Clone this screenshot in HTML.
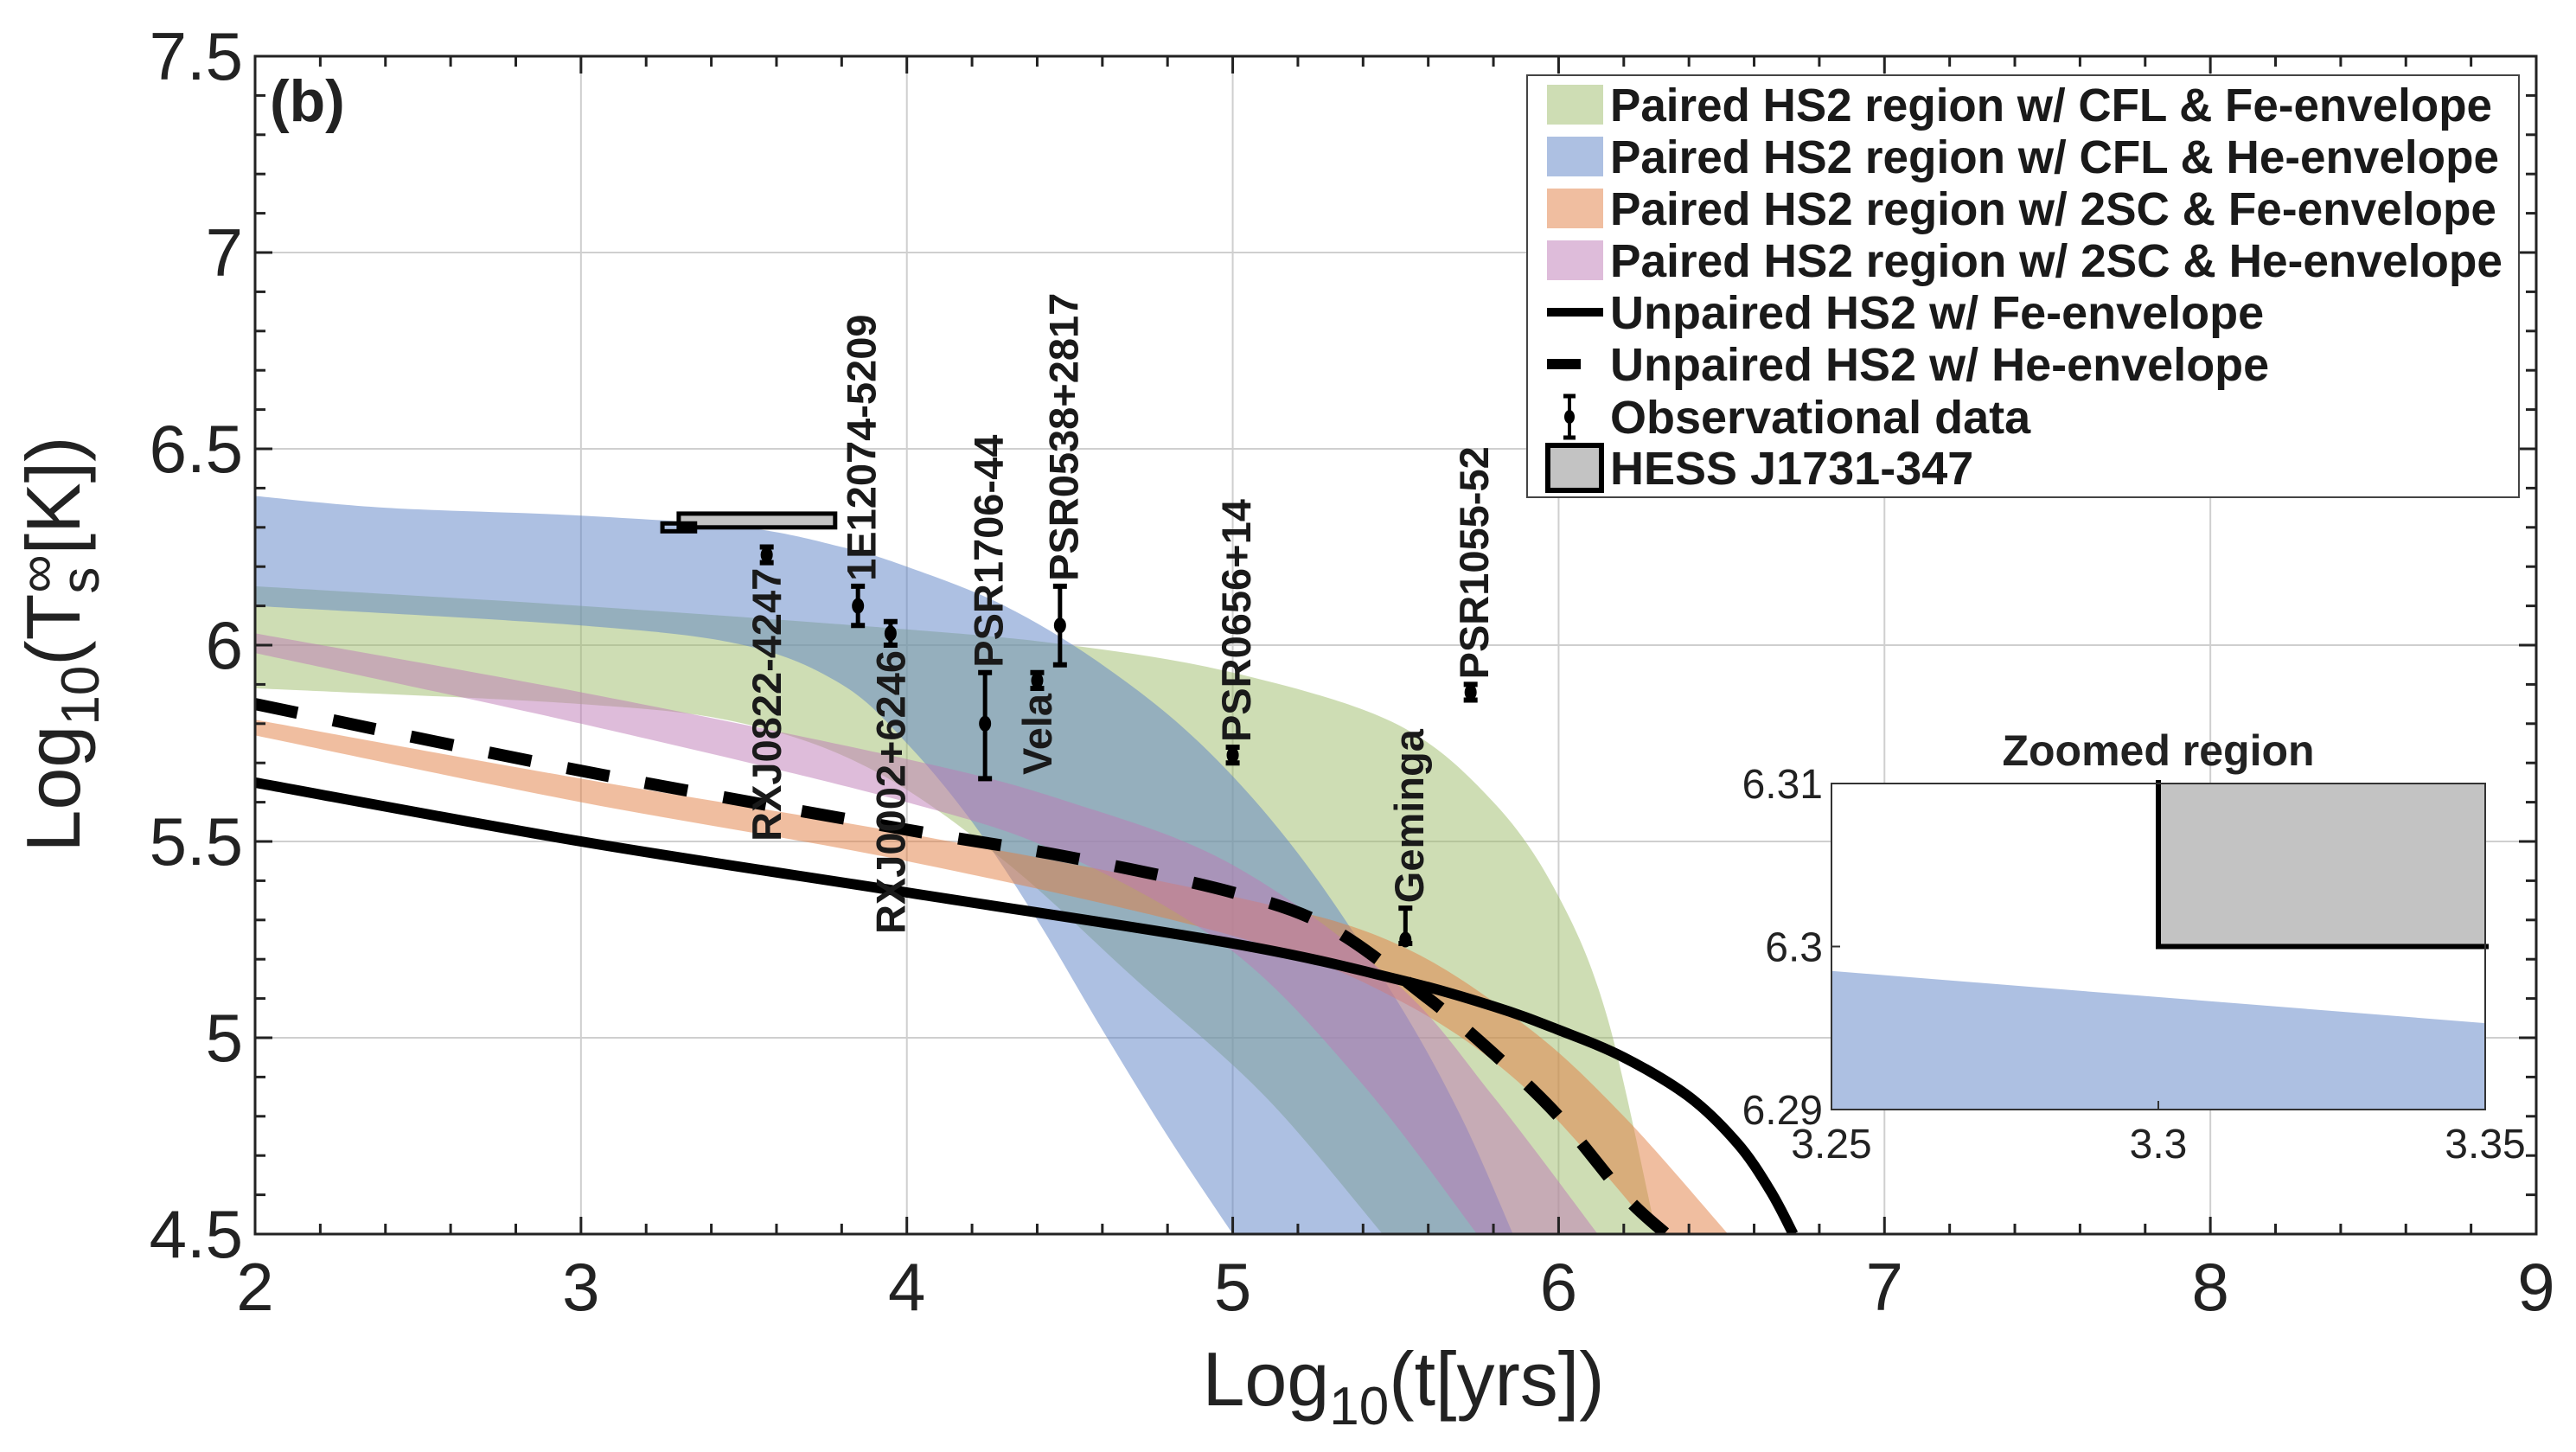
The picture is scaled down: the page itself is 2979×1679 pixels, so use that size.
<!DOCTYPE html>
<html><head><meta charset="utf-8"><style>
html,body{margin:0;padding:0;background:#fff;}
svg{display:block;font-family:"Liberation Sans",Arial,sans-serif;}
</style></head><body>
<svg id="chart" xmlns="http://www.w3.org/2000/svg" width="2979" height="1679" viewBox="0 0 2979 1679"></svg>
<script>
// ---- data ----
const xTicks = [2,3,4,5,6,7,8,9];
const yTicks = [4.5,5,5.5,6,6.5,7,7.5];
const yTickLabels = ["4.5","5","5.5","6","6.5","7","7.5"];
const greenUpperX = [2,3,4,4.5,5,5.5,5.8,6.0,6.15,6.3];
const greenUpperY = [6.15,6.1,6.04,6.0,5.93,5.8,5.6,5.36,5.05,4.5];
const greenLowerX = [2,3,3.5,3.9,4.3,4.7,5.1,5.46];
const greenLowerY = [5.89,5.85,5.8,5.68,5.45,5.15,4.85,4.5];
const blueUpperX = [2,2.4,3,3.5,3.8,4.0,4.3,4.6,4.9,5.2,5.5,5.7,5.86];
const blueUpperY = [6.38,6.35,6.33,6.3,6.25,6.2,6.1,5.95,5.75,5.47,5.1,4.8,4.5];
const blueLowerX = [2,3,3.5,3.8,4.0,4.2,4.4,4.6,4.8,5.0];
const blueLowerY = [6.1,6.05,6.0,5.9,5.75,5.55,5.3,5.02,4.75,4.5];
const orangeUpperX = [2,3,4,5,5.5,5.9,6.2,6.52];
const orangeUpperY = [5.81,5.66,5.52,5.36,5.24,5.03,4.8,4.5];
const orangeLowerX = [2,3,4,5,5.5,5.9,6.3];
const orangeLowerY = [5.77,5.6,5.45,5.26,5.1,4.87,4.5];
const pinkUpperX = [2,3,4,4.5,5,5.5,5.8,6.12];
const pinkUpperY = [6.03,5.88,5.71,5.6,5.44,5.14,4.85,4.5];
const pinkLowerX = [2,3,4,4.5,5,5.4,5.75];
const pinkLowerY = [5.98,5.8,5.6,5.46,5.22,4.88,4.5];
const feX = [2,3,4,5,5.5,5.8,6.0,6.2,6.4,6.55,6.65,6.72];
const feY = [5.65,5.5,5.37,5.24,5.15,5.08,5.02,4.95,4.85,4.73,4.61,4.5];
const heX = [2,3,4,4.5,5,5.3,5.6,5.8,6.0,6.2,6.33];
const heY = [5.85,5.68,5.53,5.46,5.37,5.28,5.1,4.96,4.8,4.6,4.5];
const obsNames = ["RXJ0822-4247","1E12074-5209","RXJ0002+6246","PSR1706-44","Vela","PSR0538+2817","PSR0656+14","Geminga","PSR1055-52"];
const obsX = [3.57,3.85,3.95,4.24,4.40,4.47,5.0,5.53,5.73];
const obsY = [6.23,6.10,6.03,5.80,5.91,6.05,5.72,5.25,5.88];
const obsErrLo = [0.02,0.05,0.03,0.14,0.02,0.10,0.02,0.01,0.02];
const obsErrHi = [0.02,0.05,0.03,0.13,0.02,0.10,0.02,0.08,0.02];
const obsLabelSide = ["below","above","below","above","below","above","above","above","above"];
const hessX = [3.30,3.78];
const hessY = [6.30,6.335];
const insetXTicks = [3.25,3.3,3.35];
const insetXTickLabels = ["3.25","3.3","3.35"];
const insetYTicks = [6.29,6.3,6.31];
const insetYTickLabels = ["6.29","6.3","6.31"];
const insetBlueX = [3.25,3.35];
const insetBlueY = [6.2985,6.2953];

// ---- geometry ----
const L=295,R=2933,T=65,B=1427;
const X=v=>L+(v-2)/7*(R-L);
const Y=v=>T+(7.5-v)/3*(B-T);
const NS="http://www.w3.org/2000/svg";
const svg=document.getElementById('chart');
function mk(tag,attrs,parent){const e=document.createElementNS(NS,tag);for(const k in attrs)e.setAttribute(k,attrs[k]);(parent||svg).appendChild(e);return e;}
function smooth(pts){
  let d="M"+pts[0][0].toFixed(1)+","+pts[0][1].toFixed(1);
  for(let i=0;i<pts.length-1;i++){
    const p0=pts[i-1]||pts[i],p1=pts[i],p2=pts[i+1],p3=pts[i+2]||p2;
    const c1=[p1[0]+(p2[0]-p0[0])/6,p1[1]+(p2[1]-p0[1])/6];
    const c2=[p2[0]-(p3[0]-p1[0])/6,p2[1]-(p3[1]-p1[1])/6];
    d+=" C"+c1[0].toFixed(1)+","+c1[1].toFixed(1)+" "+c2[0].toFixed(1)+","+c2[1].toFixed(1)+" "+p2[0].toFixed(1)+","+p2[1].toFixed(1);
  }
  return d;
}
const pts=(xs,ys)=>xs.map((x,i)=>[X(x),Y(ys[i])]);

const defs=mk('defs',{});
const cp=mk('clipPath',{id:'plotclip'},defs);
mk('rect',{x:L,y:T,width:R-L,height:B-T},cp);

// grid
const grid=mk('g',{stroke:'#cfcfcf','stroke-width':2});


xTicks.forEach(v=>mk('line',{x1:X(v),x2:X(v),y1:T,y2:B},grid));
yTicks.forEach(v=>mk('line',{x1:L,x2:R,y1:Y(v),y2:Y(v)},grid));

// bands
const bands=mk('g',{'clip-path':'url(#plotclip)'});
function band(ux,uy,lx,ly,color,name){
  const up=pts(ux,uy), lo=pts(lx,ly);
  let d=smooth(up);
  const loR=lo.slice().reverse();
  const s=smooth(loR);
  d+=" L"+loR[0][0].toFixed(1)+","+loR[0][1].toFixed(1)+s.slice(s.indexOf(' '))+" Z";
  const p=mk('path',{d:d,fill:color,'fill-opacity':0.5,stroke:'none'},bands);
  
  
}
band(greenUpperX,greenUpperY,greenLowerX,greenLowerY,'rgb(157,187,105)','band-cfl-fe');
band(blueUpperX,blueUpperY,blueLowerX,blueLowerY,'rgb(91,129,197)','band-cfl-he');
band(orangeUpperX,orangeUpperY,orangeLowerX,orangeLowerY,'rgb(225,125,65)','band-2sc-fe');
band(pinkUpperX,pinkUpperY,pinkLowerX,pinkLowerY,'rgb(189,121,181)','band-2sc-he');

// curves
const fe=mk('path',{d:smooth(pts(feX,feY)),fill:'none',stroke:'#000','stroke-width':12,'clip-path':'url(#plotclip)'});


const he=mk('path',{d:smooth(pts(heX,heY)),fill:'none',stroke:'#000','stroke-width':14,'stroke-dasharray':'50,42','clip-path':'url(#plotclip)'});



// HESS rect in main plot
const hess=mk('rect',{x:X(hessX[0]),y:Y(hessY[1]),width:X(hessX[1])-X(hessX[0]),height:Y(hessY[0])-Y(hessY[1]),fill:'#c3c3c3',stroke:'#000','stroke-width':5});


const zb=mk('rect',{x:X(insetXTicks[0]),y:Y(insetYTicks[2]),width:X(insetXTicks[2])-X(insetXTicks[0]),height:Y(insetYTicks[0])-Y(insetYTicks[2]),fill:'none',stroke:'#000','stroke-width':5});



// observational data
obsNames.forEach((n,i)=>{
  const g=mk('g',{});
  
  
  const x=X(obsX[i]),y=Y(obsY[i]),yt=Y(obsY[i]+obsErrHi[i]),yb=Y(obsY[i]-obsErrLo[i]);
  mk('line',{x1:x,x2:x,y1:yt,y2:yb,stroke:'#000','stroke-width':5},g);
  mk('line',{x1:x-8,x2:x+8,y1:yt,y2:yt,stroke:'#000','stroke-width':6},g);
  mk('line',{x1:x-8,x2:x+8,y1:yb,y2:yb,stroke:'#000','stroke-width':6},g);
  mk('ellipse',{cx:x,cy:y,rx:7,ry:9,fill:'#000'},g);
  let tx,ty,anchor;
  if(obsLabelSide[i]==='above'){tx=x+4;ty=yt-6;anchor='start';}
  else{tx=x;ty=yb+6;anchor='end';}
  const t=mk('text',{x:tx,y:ty,transform:`rotate(-90 ${tx} ${ty})`,'text-anchor':anchor,'dominant-baseline':'central','font-size':47,'font-weight':'bold',fill:'#1a1a1a'},g);
  t.textContent=n;
});

// axes box + ticks
const ax=mk('g',{stroke:'#222','stroke-width':3});


mk('rect',{x:L,y:T,width:R-L,height:B-T,fill:'none'},ax);
for(let v=2;v<=9.001;v+=0.2){const maj=Math.abs(v-Math.round(v))<1e-6;const len=maj?20:12;
  mk('line',{x1:X(v),x2:X(v),y1:B,y2:B-len},ax);mk('line',{x1:X(v),x2:X(v),y1:T,y2:T+len},ax);}
for(let v=4.5;v<=7.501;v+=0.1){const maj=Math.abs(v*2-Math.round(v*2))<1e-6;const len=maj?20:12;
  mk('line',{x1:L,x2:L+len,y1:Y(v),y2:Y(v)},ax);mk('line',{x1:R,x2:R-len,y1:Y(v),y2:Y(v)},ax);}

// tick labels
xTicks.forEach(v=>{const t=mk('text',{x:X(v),y:B+88,'text-anchor':'middle','font-size':78,fill:'#222'});
  t.textContent=String(v);});
yTicks.forEach((v,i)=>{const t=mk('text',{x:L-14,y:Y(v)+27,'text-anchor':'end','font-size':78,fill:'#222'});
  t.textContent=yTickLabels[i];});

// axis titles
const xt=mk('text',{x:1623,y:1625,'text-anchor':'middle','font-size':88,fill:'#222'});

xt.innerHTML='Log<tspan dy="22" font-size="62">10</tspan><tspan dy="-22">(t[yrs])</tspan>';
const yt=mk('text',{x:92,y:745,'text-anchor':'middle','font-size':88,fill:'#222',transform:'rotate(-90 92 745)'});

yt.innerHTML='Log<tspan dy="22" font-size="62">10</tspan><tspan dy="-22">(T</tspan><tspan dy="22" font-size="62">s</tspan><tspan dy="-50" dx="-30" font-size="62">∞</tspan><tspan dy="28">[K])</tspan>';
const pl=mk('text',{x:312,y:140,'font-size':68,'font-weight':'bold',fill:'#222'});
pl.textContent='(b)';

// inset
const iL=2118,iR=2874,iT=906,iB=1283;
const IX=v=>iL+(v-3.25)/0.1*(iR-iL);
const IY=v=>iT+(6.31-v)/0.02*(iB-iT);
const ins=mk('g',{});

mk('rect',{x:iL,y:iT,width:iR-iL,height:iB-iT,fill:'#fff'},ins);
const ib=mk('path',{d:`M${IX(insetBlueX[0])},${IY(insetBlueY[0])} L${IX(insetBlueX[1])},${IY(insetBlueY[1])} L${IX(insetBlueX[1])},${iB} L${IX(insetBlueX[0])},${iB} Z`,fill:'rgb(173,192,226)'},ins);

const ih=mk('rect',{x:IX(hessX[0]),y:iT,width:iR-IX(hessX[0]),height:IY(hessY[0])-iT,fill:'#c3c3c3'},ins);

mk('path',{d:`M${IX(hessX[0])},${iT-4} L${IX(hessX[0])},${IY(hessY[0])} L${iR+4},${IY(hessY[0])}`,fill:'none',stroke:'#000','stroke-width':6},ins);
mk('rect',{x:iL,y:iT,width:iR-iL,height:iB-iT,fill:'none',stroke:'#333','stroke-width':2},ins);
insetXTicks.forEach((v,i)=>{mk('line',{x1:IX(v),x2:IX(v),y1:iB,y2:iB-10,stroke:'#333','stroke-width':2},ins);
  const t=mk('text',{x:IX(v),y:iB+56,'text-anchor':'middle','font-size':48,fill:'#222'},ins);
  t.textContent=insetXTickLabels[i];});
insetYTicks.forEach((v,i)=>{mk('line',{x1:iL,x2:iL+10,y1:IY(v),y2:IY(v),stroke:'#333','stroke-width':2},ins);
  const t=mk('text',{x:iL-10,y:IY(v)+17,'text-anchor':'end','font-size':48,fill:'#222'},ins);
  t.textContent=insetYTickLabels[i];});
const it=mk('text',{x:2496,y:885,'text-anchor':'middle','font-size':50,'font-weight':'bold',fill:'#222'},ins);
it.textContent='Zoomed region';

// legend
const lg=mk('g',{});

mk('rect',{x:1766,y:87,width:1147,height:488,fill:'#fff',stroke:'#444','stroke-width':2},lg);
const legLabels=["Paired HS2 region w/ CFL & Fe-envelope","Paired HS2 region w/ CFL & He-envelope","Paired HS2 region w/ 2SC & Fe-envelope","Paired HS2 region w/ 2SC & He-envelope","Unpaired HS2 w/ Fe-envelope","Unpaired HS2 w/ He-envelope","Observational data","HESS J1731-347"];
const legY=[121,181,241,301,361,421,482,541];
const legW=[1020,1028,1025,1032,0,0,0,0];
const patchCols=['rgb(206,221,180)','rgb(173,192,226)','rgb(240,190,160)','rgb(222,188,218)'];
legLabels.forEach((s,i)=>{
  const e=mk('g',{},lg);
  
  const cy=legY[i];
  if(i<4) mk('rect',{x:1789,y:cy-23,width:65,height:46,fill:patchCols[i]},e);
  else if(i===4) mk('line',{x1:1789,x2:1854,y1:cy,y2:cy,stroke:'#000','stroke-width':10},e);
  else if(i===5) mk('line',{x1:1789,x2:1828,y1:cy,y2:cy,stroke:'#000','stroke-width':12},e);
  else if(i===6){mk('line',{x1:1815,x2:1815,y1:cy-24,y2:cy+24,stroke:'#000','stroke-width':4},e);
    mk('line',{x1:1808,x2:1822,y1:cy-24,y2:cy-24,stroke:'#000','stroke-width':5},e);
    mk('line',{x1:1808,x2:1822,y1:cy+24,y2:cy+24,stroke:'#000','stroke-width':5},e);
    mk('ellipse',{cx:1815,cy:cy,rx:6,ry:8,fill:'#000'},e);}
  else mk('rect',{x:1790,y:cy-26,width:62,height:52,fill:'#c3c3c3',stroke:'#000','stroke-width':6},e);
  const t=mk('text',{x:1862,y:cy+19,'font-size':54,'font-weight':'bold',fill:'#1a1a1a'},e);
  if(legW[i]>0){t.setAttribute('textLength',legW[i]);t.setAttribute('lengthAdjust','spacingAndGlyphs');}
  t.textContent=s;
});
</script>
</body></html>
